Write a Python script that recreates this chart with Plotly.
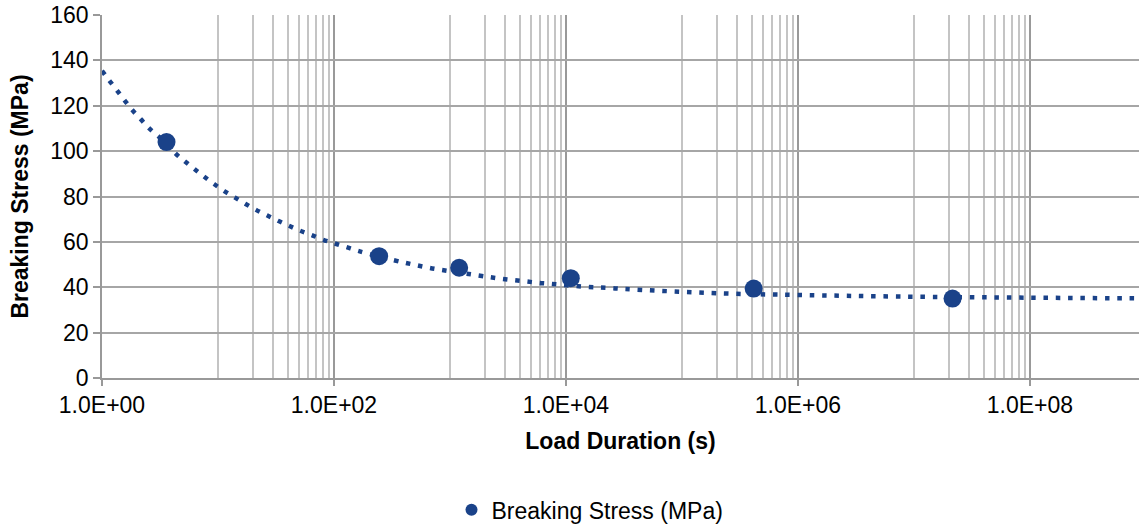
import plotly.graph_objects as go

# Measured breaking stress vs. load duration
duration_s = [3.6, 245, 1200, 11000, 415000, 2.15e7]
stress_mpa = [104, 53.7, 48.6, 44.0, 39.4, 35.0]

# Fitted curve through the measurements (dotted trend)
trend_s = [1.0, 1.164, 1.355, 1.570, 1.824, 2.158, 2.541, 3.565, 4.315, 5.200,
           6.295, 7.621, 9.247, 11.32, 13.93, 17.18, 21.28, 26.42, 32.89, 40.93,
           51.17, 64.27, 80.72, 101.4, 127.6, 161.8, 328.9, 417.8, 527.2, 668.3,
           853.1, 1766, 2244, 2844, 3631, 4634, 5888, 7464, 15490, 19770,
           25290, 32280, 227000, 977000, 7.59e6, 1.0e8, 8.7e8]
trend_mpa = [135.4, 130.9, 126.6, 122.3, 118.1, 114.1, 110.1, 103.6, 98.9, 95.4,
             92.0, 88.7, 85.5, 82.4, 79.6, 76.8, 74.1, 71.7, 69.3, 67.1,
             64.9, 63.0, 60.9, 59.3, 57.7, 56.0, 51.9, 50.7, 49.6, 48.5,
             47.6, 45.2, 44.4, 43.7, 43.1, 42.5, 41.9, 41.5, 40.1, 39.9,
             39.6, 39.2, 37.3, 36.6, 35.9, 35.4, 35.1]

# Axis labelling
x_tick_vals = [1, 1e2, 1e4, 1e6, 1e8]
x_tick_text = ["1.0E+00", "1.0E+02", "1.0E+04", "1.0E+06", "1.0E+08"]
y_tick_vals = [0, 20, 40, 60, 80, 100, 120, 140, 160]

BLUE = "#1a4289"
FONT = "Liberation Sans, Arial, sans-serif"
FS = 23

# Minor grid: linear steps inside each two-decade major interval
minor_vals = []
for base in x_tick_vals:
    minor_vals += [base * 10 * k for k in range(1, 10)]

fig = go.Figure()

fig.add_trace(go.Scatter(
    x=trend_s, y=trend_mpa, mode="lines", showlegend=False, hoverinfo="skip",
    line=dict(color=BLUE, width=4.5, dash="4.5px,7.8px", shape="spline"),
))

fig.add_trace(go.Scatter(
    x=duration_s, y=stress_mpa, mode="markers", name="Breaking Stress (MPa)",
    marker=dict(color=BLUE, size=18),
))

fig.update_layout(
    width=1139, height=524,
    margin=dict(l=102, r=0, t=15, b=145.5),
    paper_bgcolor="white", plot_bgcolor="white",
    font=dict(family=FONT, size=FS, color="#000000"),
    showlegend=True,
    legend=dict(orientation="h", xref="container", yref="container",
                x=0.518, xanchor="center", y=0.027, yanchor="middle",
                font=dict(size=FS), itemsizing="constant", itemwidth=30),
    xaxis=dict(
        type="log", range=[0, 8.94],
        tickmode="array", tickvals=x_tick_vals, ticktext=x_tick_text,
        ticks="outside", ticklen=6, tickwidth=1.5, tickcolor="#999999",
        showgrid=True, gridcolor="#999999", gridwidth=1.5,
        showline=True, linecolor="#999999", linewidth=1.5,
        zeroline=False,
        minor=dict(tickmode="array", tickvals=minor_vals, showgrid=True,
                   gridcolor="#c4c4c4", gridwidth=1.5, ticks=""),
        title=dict(text="<b>Load Duration (s)</b>", standoff=16,
                   font=dict(size=FS)),
        tickfont=dict(size=FS),
    ),
    yaxis=dict(
        range=[0, 160], tickmode="array", tickvals=y_tick_vals,
        ticks="outside", ticklen=7, tickwidth=1.5, tickcolor="#999999",
        showgrid=True, gridcolor="#a6a6a6", gridwidth=1.5,
        showline=True, linecolor="#999999", linewidth=1.5,
        zeroline=False,
        title=dict(text="<b>Breaking Stress (MPa)</b>", standoff=15,
                   font=dict(size=FS)),
        tickfont=dict(size=FS),
    ),
)

fig.write_html("out.html")
